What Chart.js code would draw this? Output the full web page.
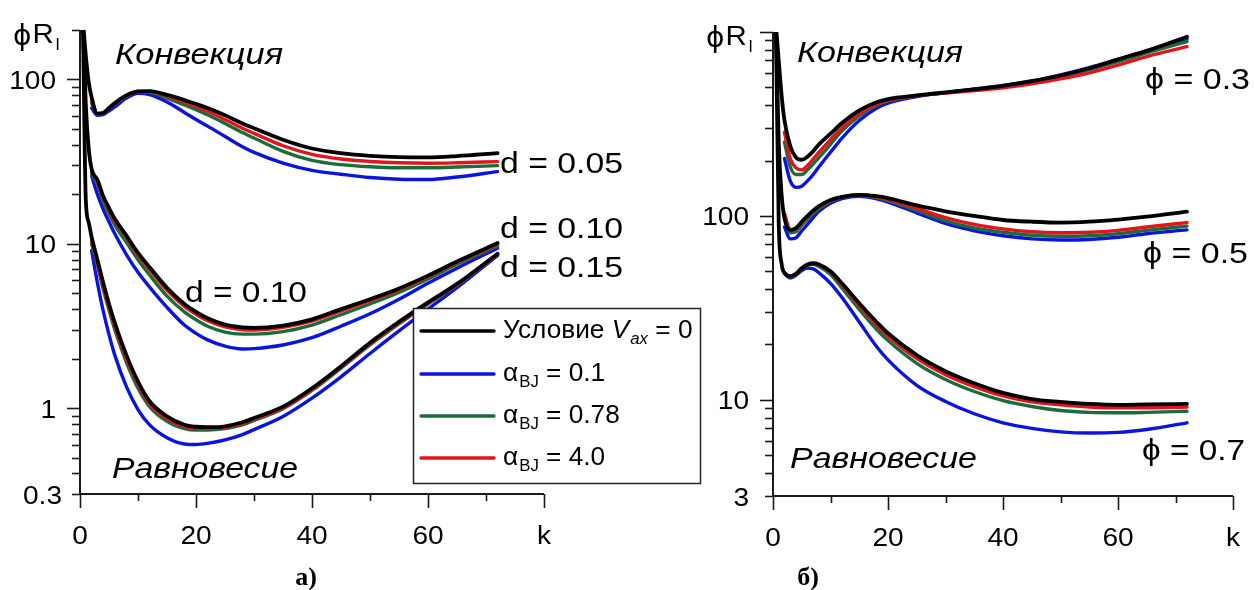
<!DOCTYPE html>
<html><head><meta charset="utf-8">
<script src="https://cdn.jsdelivr.net/npm/chart.js@4.4.1/dist/chart.umd.min.js"></script>
<style>
html,body{margin:0;padding:0;background:#fff;}
#wrap{position:relative;width:1254px;height:590px;overflow:hidden;background:#fff;}
canvas{position:absolute;left:0;top:0;}
</style>
</head><body>
<div id="wrap"><canvas id="cL" width="1254" height="590"></canvas><canvas id="cR" width="1254" height="590"></canvas></div>
<script>
// ---------- Panel a) : k values and series ----------
const kLeft = [0.5, 1, 1.5, 2, 3, 4, 5, 6, 8, 10, 12, 15, 18, 20, 22, 25, 28, 30, 35, 40, 45, 50, 55, 60, 65, 72];
const d005Black = [230, 140, 96, 78, 62, 62.5, 67, 72, 80, 84.5, 85, 80.5, 75, 71, 67, 60.5, 54, 50.5, 43, 38, 35.6, 34.3, 33.7, 33.6, 34.2, 35.6];
const d005Red   = [null, null, null, 74, 62, 62.5, 67, 71.5, 80, 84.5, 84.5, 79, 73, 68.5, 64, 57, 50.5, 47, 39.5, 35, 32.8, 31.7, 31.1, 30.9, 31.1, 31.6];
const d005Green = [null, null, null, 72, 61.5, 62, 66.5, 71, 79, 84, 83.5, 77, 70, 65.5, 61, 54, 47.5, 44, 36.5, 32.2, 30.3, 29.4, 29, 29, 29.3, 29.9];
const d005Blue  = [null, null, null, 67, 60.5, 61, 64.5, 68, 77, 82.5, 81, 73, 63, 57, 52, 45, 39, 36, 31, 28, 26.5, 25.3, 24.7, 24.6, 25.5, 27.5];
const d010Black = [230, 70, 38, 28.5, 24.5, 19.5, 16.5, 14.2, 11.2, 8.8, 7.2, 5.4, 4.3, 3.85, 3.52, 3.22, 3.1, 3.08, 3.18, 3.47, 4.0, 4.6, 5.35, 6.4, 7.8, 10.1];
const d010Red   = [null, null, null, 27.5, 24, 19, 16, 13.8, 10.9, 8.55, 6.95, 5.2, 4.15, 3.72, 3.4, 3.12, 3.0, 2.99, 3.1, 3.38, 3.9, 4.5, 5.25, 6.3, 7.7, 9.9];
const d010Green = [null, null, null, 26.5, 23, 18, 15.2, 13, 10.2, 8.0, 6.45, 4.8, 3.85, 3.45, 3.15, 2.9, 2.82, 2.82, 2.92, 3.2, 3.7, 4.3, 5.05, 6.1, 7.5, 9.7];
const d010Blue  = [null, null, null, 26, 20, 16.2, 13.6, 11.5, 8.6, 6.7, 5.45, 4.1, 3.2, 2.85, 2.6, 2.38, 2.29, 2.3, 2.42, 2.68, 3.15, 3.75, 4.6, 5.75, 7.1, 9.4];
const d015Black = [230, 18.5, 13.5, 11, 8, 5.8, 4.3, 3.3, 2.1, 1.45, 1.1, 0.89, 0.79, 0.77, 0.765, 0.775, 0.82, 0.87, 1.02, 1.32, 1.8, 2.5, 3.35, 4.4, 5.7, 8.7];
const d015Red   = [null, null, null, 10.5, 7.7, 5.5, 4.1, 3.15, 2.0, 1.39, 1.06, 0.86, 0.77, 0.755, 0.75, 0.765, 0.805, 0.855, 1.0, 1.3, 1.78, 2.46, 3.3, 4.35, 5.65, 8.65];
const d015Green = [null, null, null, 10, 7.4, 5.3, 3.95, 3.0, 1.9, 1.32, 1.02, 0.83, 0.75, 0.735, 0.735, 0.75, 0.79, 0.84, 0.99, 1.28, 1.75, 2.42, 3.25, 4.3, 5.6, 8.6];
const d015Blue  = [null, null, null, 9.1, 5.8, 3.9, 2.8, 2.1, 1.35, 0.98, 0.79, 0.66, 0.605, 0.6, 0.61, 0.64, 0.69, 0.74, 0.89, 1.15, 1.55, 2.15, 2.95, 4.0, 5.4, 8.5];

// ---------- Panel б) ----------
const kRight = [0.5, 1, 1.5, 2, 3, 4, 5, 6, 7, 8, 10, 12, 15, 18, 20, 25, 30, 35, 40, 45, 50, 55, 60, 65, 72];
const p03Black = [1100, 700, 450, 330, 240, 208, 202, 210, 225, 245, 280, 320, 375, 415, 432, 452, 470, 488, 510, 540, 580, 635, 710, 790, 942];
const p03Red   = [null, null, null, 285, 205, 182, 178, 188, 204, 222, 260, 302, 360, 405, 425, 450, 465, 480, 497, 522, 556, 600, 660, 735, 832];
const p03Green = [null, null, null, 252, 185, 168, 168, 178, 192, 208, 245, 290, 350, 400, 422, 450, 467, 486, 506, 534, 573, 625, 690, 770, 886];
const p03Blue  = [null, null, null, 205, 155, 143, 145, 155, 168, 185, 222, 265, 330, 385, 410, 445, 468, 490, 512, 542, 585, 640, 710, 790, 912];
const p05Black = [1100, 250, 130, 97, 84, 86, 93, 100, 107, 113, 122, 127, 130, 128, 125, 114, 106, 100, 95, 93, 92, 93, 95.5, 99, 105.5];
const p05Red   = [null, null, null, 103, 84, 85, 92, 99, 106, 112, 121, 127, 130, 127, 123, 110, 98, 90, 85, 82, 81, 81.5, 83.5, 87, 92];
const p05Green = [null, null, null, 98, 81, 82, 89, 96, 103, 110, 120, 126, 129, 126, 121, 107, 94, 86, 81.5, 78.5, 77.5, 78, 80, 83.5, 88];
const p05Blue  = [null, null, null, 87, 75, 76, 83, 90, 98, 106, 117, 124, 128, 124, 119, 104, 91, 83, 78, 75, 74, 74.5, 76.5, 80, 84];
const p07Black = [1100, 90, 55, 49, 47, 48.5, 52, 54.5, 55.3, 54.5, 50, 43, 33.5, 26.5, 23, 17.5, 14.3, 12.3, 10.9, 10.1, 9.75, 9.5, 9.4, 9.45, 9.5];
const p07Red   = [null, null, null, 49, 47, 48.5, 52, 54.5, 55, 54, 49.5, 42, 32.5, 25.5, 22.2, 16.8, 13.7, 11.8, 10.5, 9.75, 9.4, 9.15, 9.05, 9.05, 9.13];
const p07Green = [null, null, null, 49, 46.5, 48, 51.5, 54, 54.5, 53, 48, 40.5, 31, 24.2, 21, 15.8, 12.9, 11.1, 9.9, 9.2, 8.75, 8.55, 8.5, 8.55, 8.67];
const p07Blue  = [null, null, null, 48.5, 46, 47.5, 50.5, 52, 51.5, 49, 43, 36, 26.5, 19.5, 16.5, 12, 9.8, 8.4, 7.5, 7.0, 6.7, 6.6, 6.65, 6.9, 7.5];

// ---------- Tick labels ----------
const xTickValues = [0, 20, 40, 60];
const xTickLabels = ['0', '20', '40', '60'];
const leftYTickValues = [0.3, 1, 10, 100];
const leftYTickLabels = ['0.3', '1', '10', '100'];
const rightYTickValues = [3, 10, 100];
const rightYTickLabels = ['3', '10', '100'];
const legendLabels = ['Условие', '0.1', '0.78', '4.0'];

const C = {black:'#000000', blue:'#0a14dc', green:'#1d6b3b', red:'#e3141c'};
const SANS = "'Liberation Sans', Arial, sans-serif";

function series(ks, vals, color, w){
  const pts = [];
  vals.forEach((v,i)=>{ if (v != null) pts.push({x:ks[i], y:v}); });
  return {
    data: pts,
    borderColor: color, backgroundColor: color, borderWidth: w, pointRadius: 0, fill:false,
    cubicInterpolationMode:'monotone',
    borderCapStyle:'round', borderJoinStyle:'round'
  };
}
function group(ks, b, r, g, bl){
  return [series(ks,b,C.black,3.8), series(ks,r,C.red,3.4), series(ks,g,C.green,3.4), series(ks,bl,C.blue,3.4)];
}

function stxt(ctx, s, x, y, font, align, sx, w){
  ctx.save();
  ctx.font = font; ctx.textAlign = align || 'left'; ctx.textBaseline = 'alphabetic';
  if (w) sx = w / ctx.measureText(s).width;
  ctx.translate(x, y); ctx.scale(sx || 1, 1);
  ctx.fillText(s, 0, 0);
  ctx.restore();
}
function mw(ctx, s, font){ ctx.font = font; return ctx.measureText(s).width; }

function phiR(ctx, x, y){
  ctx.fillStyle = '#000';
  const f1 = "28px 'DejaVu Sans', " + SANS, f2 = "28px " + SANS;
  stxt(ctx, 'ϕ', x, y + 2, f1, 'left', 1);
  const w1 = mw(ctx, 'ϕ', f1);
  stxt(ctx, 'R', x + w1 + 1, y, f2, 'left', 1.05);
  const w2 = mw(ctx, 'R', f2) * 1.05;
  stxt(ctx, 'l', x + w1 + w2 + 3, y + 7, "17px " + SANS, 'left', 1);
}

function axesPlugin(o){
  return {
    id: 'axes_' + o.id,
    afterDraw(chart){
      const ctx = chart.ctx, xs = chart.scales.x, ys = chart.scales.y, a = chart.chartArea;
      ctx.save();
      ctx.strokeStyle = '#1a1a1a'; ctx.fillStyle = '#000';
      ctx.lineWidth = 2; ctx.lineCap = 'butt';
      ctx.beginPath();
      ctx.moveTo(a.left, a.top); ctx.lineTo(a.left, a.bottom); ctx.lineTo(a.right, a.bottom);
      ctx.stroke();
      ctx.lineWidth = 1.6;
      const lo = Math.floor(Math.log10(o.ymin)), hi = Math.ceil(Math.log10(o.ymax));
      for (let d = lo; d <= hi; d++){
        for (let m = 1; m <= 9; m++){
          const v = m * Math.pow(10, d);
          if (v < o.ymin * 0.999 || v > o.ymax * 1.001) continue;
          const py = Math.round(ys.getPixelForValue(v)) + 0.5;
          const len = (m === 1) ? 13 : 8;
          ctx.beginPath(); ctx.moveTo(a.left - len, py); ctx.lineTo(a.left, py); ctx.stroke();
        }
      }
      for (let k = 0; k <= 80; k += 10){
        const px = Math.round(xs.getPixelForValue(k)) + 0.5;
        const len = (k % 20 === 0) ? 14 : 7;
        ctx.beginPath(); ctx.moveTo(px, a.bottom); ctx.lineTo(px, a.bottom + len); ctx.stroke();
      }
      ctx.fillStyle = '#000';
      const tf = "26px " + SANS;
      o.yVals.forEach((v,i)=>{
        const dx = (o.yLabs[i].indexOf('.') >= 0) ? 6 : 0;
        stxt(ctx, o.yLabs[i], a.left - 24 + dx, ys.getPixelForValue(v) + 9.5, tf, 'right', 1.08);
      });
      xTickValues.forEach((v,i)=>{
        stxt(ctx, xTickLabels[i], xs.getPixelForValue(v), a.bottom + 50, tf, 'center', 1.08);
      });
      stxt(ctx, 'k', xs.getPixelForValue(80), a.bottom + 50, tf, 'center', 1.08);
      phiR(ctx, a.left - 67, a.top + 13);
      o.notes.forEach(n => { stxt(ctx, n[0], n[1], n[2], n[3], 'left', 1, n[4]); });
      stxt(ctx, o.panel, o.panelX, 585, "bold 26px 'Liberation Serif', 'Times New Roman', serif", 'center', 1);
      if (o.legend) drawLegend(ctx);
      ctx.restore();
    }
  };
}

function drawLegend(ctx){
  const bx = 413, by = 308, bw = 287, bh = 175;
  ctx.fillStyle = '#fff'; ctx.fillRect(bx, by, bw, bh);
  ctx.strokeStyle = '#222'; ctx.lineWidth = 1.5;
  ctx.strokeRect(bx + 0.5, by + 0.5, bw, bh);
  const rows = [[C.black, 338], [C.blue, 381], [C.green, 423], [C.red, 465]];
  const F = "25px " + SANS, FI = "italic 25px " + SANS, SUB = "16px " + SANS, SUBI = "italic 16px " + SANS;
  const S = 1.05;
  rows.forEach((r, i) => {
    ctx.strokeStyle = r[0]; ctx.lineWidth = 3.4; ctx.lineCap = 'round';
    ctx.beginPath(); ctx.moveTo(421, r[1] - 7); ctx.lineTo(494, r[1] - 7); ctx.stroke();
    ctx.fillStyle = '#000';
    const base = r[1];
    let x = 503;
    if (i === 0){
      const s0 = legendLabels[0] + ' ';
      stxt(ctx, s0, x, base, F, 'left', S); x += mw(ctx, s0, F) * S;
      stxt(ctx, 'V', x, base, FI, 'left', S); x += mw(ctx, 'V', FI) * S;
      stxt(ctx, 'ax', x + 1, base + 6, SUBI, 'left', S); x += mw(ctx, 'ax', SUBI) * S + 1;
      stxt(ctx, ' = 0', x, base, F, 'left', S);
    } else {
      stxt(ctx, 'α', x, base, F, 'left', S); x += mw(ctx, 'α', F) * S;
      stxt(ctx, 'BJ', x + 1, base + 6, SUB, 'left', S); x += mw(ctx, 'BJ', SUB) * S + 1;
      stxt(ctx, ' = ' + legendLabels[i], x, base, F, 'left', S);
    }
  });
}

function makeChart(id, datasets, pad, ymin, ymax, plug){
  return new Chart(document.getElementById(id), {
    type: 'line',
    data: { datasets },
    options: {
      responsive: false, animation: false, devicePixelRatio: 1,
      layout: { padding: pad },
      plugins: { legend: {display:false}, tooltip: {enabled:false} },
      scales: {
        x: { type:'linear', min:0, max:80, display:false },
        y: { type:'logarithmic', min:ymin, max:ymax, display:false }
      }
    },
    plugins: [plug]
  });
}

const IT = "italic 29px " + SANS;
const NUM = "29px " + SANS;
const PHI = "29px " + SANS;

const leftSets = [].concat(
  group(kLeft, d005Black, d005Red, d005Green, d005Blue),
  group(kLeft, d010Black, d010Red, d010Green, d010Blue),
  group(kLeft, d015Black, d015Red, d015Green, d015Blue)
);
const rightSets = [].concat(
  group(kRight, p03Black, p03Red, p03Green, p03Blue),
  group(kRight, p05Black, p05Red, p05Green, p05Blue),
  group(kRight, p07Black, p07Red, p07Green, p07Blue)
);

makeChart('cL', leftSets, {left:80, top:30, right:710, bottom:96}, 0.3, 200, axesPlugin({
  id:'L', ymin:0.3, ymax:200, yVals:leftYTickValues, yLabs:leftYTickLabels, legend:true,
  panel:'а)', panelX:306,
  notes:[
    ['Конвекция', 115, 64, IT, 168],
    ['Равновесие', 112, 478, IT, 186],
    ['d = 0.05', 500, 173, NUM, 123],
    ['d = 0.10', 500, 238, NUM, 123],
    ['d = 0.15', 500, 277, NUM, 123],
    ['d = 0.10', 185, 302, NUM, 122]
  ]
}));
makeChart('cR', rightSets, {left:773, top:32, right:21, bottom:94}, 3, 1000, axesPlugin({
  id:'R', ymin:3, ymax:1000, yVals:rightYTickValues, yLabs:rightYTickLabels, legend:false,
  panel:'б)', panelX:808,
  notes:[
    ['Конвекция', 797, 62, IT, 166],
    ['Равновесие', 790, 468, IT, 187],
    ['ϕ = 0.3', 1145, 89, PHI, 105],
    ['ϕ = 0.5', 1143, 263, PHI, 105],
    ['ϕ = 0.7', 1142, 460, PHI, 103]
  ]
}));
</script>
</body></html>
